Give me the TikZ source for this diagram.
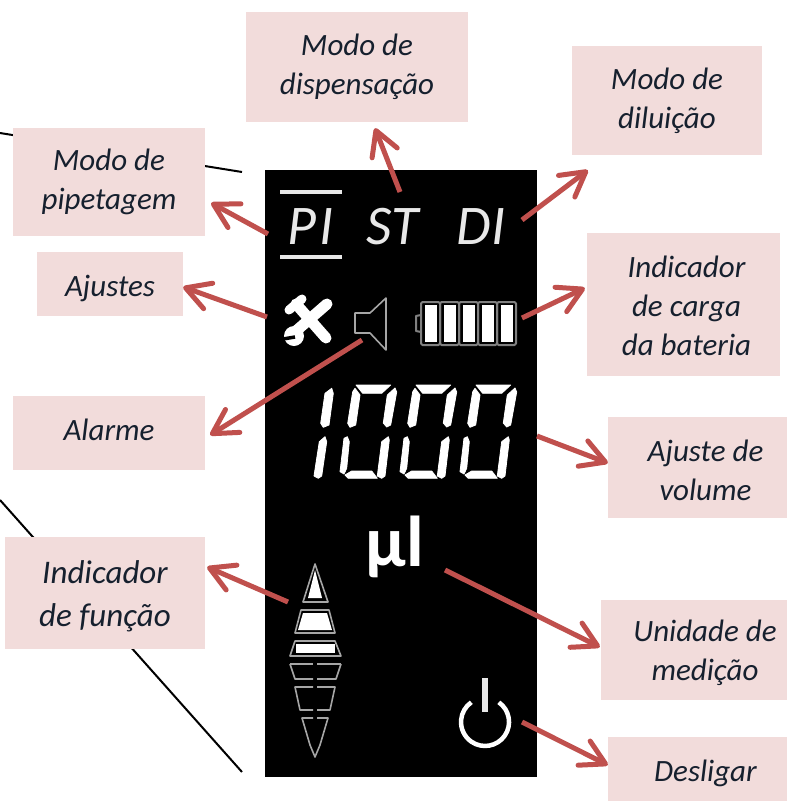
\documentclass[tikz,border=0pt]{standalone}
\usepackage{fontspec}
\setmainfont{Carlito}
\usetikzlibrary{arrows.meta,calc}
\definecolor{boxpink}{HTML}{F2DCDB}
\definecolor{arrowred}{HTML}{C0504D}
\definecolor{lcdgray}{HTML}{A6A6A6}
\definecolor{lcddark}{HTML}{808080}
\definecolor{lcdwhite}{HTML}{E8E8E8}
\definecolor{labelink}{HTML}{16202E}
\newcommand{\nudge}[2]{\raisebox{-#1pt}[\height][\depth]{#2}}
\tikzset{
  labelbox/.style={fill=boxpink, inner sep=0pt, align=center, text=labelink,
    font=\fontsize{31}{39}\selectfont\itshape},
  callout/.style={-{Straight Barb[length=24pt,width=27pt,line width=5pt,round]},
    line width=5pt, arrowred},
  modetext/.style={inner sep=0pt, text=lcdwhite, font=\fontsize{56}{56}\selectfont\itshape},
  segment/.style={fill=white, draw=white, line width=0.8pt, line join=round},
  cellline/.style={draw=lcdgray, line width=1.6pt, line join=round},
  batteryline/.style={draw=lcddark, line width=2pt, line join=round},
  leader/.style={draw=black, line width=2pt}
}
\begin{document}
\begin{tikzpicture}[x=1pt,y=-1pt]
  \useasboundingbox[fill=white] (0,0) rectangle (787,801);

  % Leader lines behind the boxes
  \coordinate (leaderA) at (0,133);
  \coordinate (leaderB) at (242,172);
  \coordinate (leaderC) at (0,500);
  \coordinate (leaderD) at (242,772);
  \draw[leader] (leaderA) -- (leaderB);
  \draw[leader] (leaderC) -- (leaderD);

  % Display
  \node[fill=black, minimum width=272pt, minimum height=607pt, inner sep=0pt] (display) at (401,473.5) {};

  % Label boxes
  \node[labelbox, minimum width=222pt, minimum height=110pt] (dispensacao) at (357,67) {Modo de\\dispensação};
  \node[labelbox, minimum width=190pt, minimum height=109pt] (diluicao) at (667,100.5) {Modo de\\diluição};
  \node[labelbox, minimum width=192pt, minimum height=108pt] (pipetagem) at (109,182) {Modo de\\pipetagem};
  \node[labelbox, minimum width=146pt, minimum height=64pt] (ajustes) at (110,284) {\nudge{4}{Ajustes}};
  \node[labelbox, minimum width=193pt, minimum height=143pt] (bateria) at (683.5,304.5) {\hspace*{6pt}\nudge{1}{Indicador}\\\hspace*{6pt}\nudge{1}{de carga}\\\hspace*{6pt}\nudge{1}{da bateria}};
  \node[labelbox, minimum width=192pt, minimum height=74pt] (alarme) at (109,433) {\nudge{-3}{Alarme}};
  \node[labelbox, minimum width=179pt, minimum height=101pt] (volume) at (697.5,467.5) {\hspace*{16pt}\nudge{3}{Ajuste de}\\\hspace*{16pt}\nudge{3}{volume}};
  \node[labelbox, minimum width=200pt, minimum height=112pt, font=\fontsize{33}{43}\selectfont\itshape] (funcao) at (105,593) {\nudge{3}{Indicador}\\\nudge{3}{de função}};
  \node[labelbox, minimum width=186pt, minimum height=100pt] (medicao) at (694,650) {\hspace*{22pt}\nudge{3}{Unidade de}\\\hspace*{22pt}\nudge{3}{medição}};
  \node[labelbox, minimum width=179pt, minimum height=64pt] (desligar) at (697.5,769) {\hspace*{16pt}\nudge{4}{Desligar}};

  % Mode texts
  \node[modetext] (modePI) at (311,227) {P\kern3pt I};
  \node[modetext] (modeST) at (393,227) {ST};
  \node[modetext] (modeDI) at (481,227) {DI};
  \coordinate (barA) at (280,192);
  \coordinate (barB) at (342,192);
  \coordinate (barC) at (280,257);
  \coordinate (barD) at (342,257);
  \draw[lcdwhite, line width=3.6pt] (barA) -- (barB);
  \draw[lcdwhite, line width=3.6pt] (barC) -- (barD);

  % Tools icon
  \draw[white, line width=11pt, line cap=round] (327,304) -- (296,331);
  \draw[white, line width=11pt, line cap=round] (296,304) -- (326,338);
  \draw[white, line width=9pt, line cap=round] (289,310) -- (302,299);
  \fill[white] (294,336) circle[radius=10pt];
  \draw[black, line width=3.5pt] (283,339) -- (295,337);

  % Speaker icon
  \draw[cellline] (355,313) -- (370,313) -- (386,298) -- (386,350) -- (370,333) -- (355,333) -- cycle;

  % Battery
  \draw[batteryline] (421,315) -- (416,316) -- (416,331) -- (421,332);
  \foreach \cellx in {421,440,459,478,497} {
    \draw[batteryline, rounded corners=1.5pt] (\cellx,302) rectangle ++(19,43);
    \fill[white] (\cellx+3.5,305) rectangle ++(12.5,37);
  }

  % Volume digits
  \draw[segment] (331.7,388.3) -- (333.3,393.3) -- (329,425) -- (323.3,427.3) -- (320.7,423.3) -- (325,393.3) -- cycle;
  \draw[segment] (325,436.7) -- (326.7,441.7) -- (321.7,476) -- (318.3,478.3) -- (314,476) -- (319.3,441.7) -- cycle;
  \foreach \dx in {0,60,120} {
    \begin{scope}[shift={(\dx,0)}]
      \draw[segment] (356,385) -- (390.7,385) -- (381.7,393.3) -- (362.7,393.3) -- cycle;
      \draw[segment] (355,388.3) -- (360,395) -- (355.7,425) -- (350,427.3) -- (347.7,423.3) -- (352.7,391.7) -- cycle;
      \draw[segment] (395,388) -- (396.7,392) -- (390.7,425) -- (386.7,427) -- (383.3,423) -- (387.3,395) -- cycle;
      \draw[segment] (347.3,436.7) -- (349.3,441.7) -- (346.7,468.3) -- (344,474) -- (340,471.7) -- (344,438.3) -- cycle;
      \draw[segment] (388.3,436.7) -- (389.3,440) -- (385,476) -- (381.7,478.3) -- (377.3,476) -- (381.7,441.7) -- cycle;
      \draw[segment] (351.7,471) -- (371.7,471) -- (377.3,478.3) -- (348.3,478.3) -- (345,475) -- cycle;
    \end{scope}
  }

  % Unit
  \node[inner sep=0pt, text=white, font=\fontsize{72}{72}\selectfont\bfseries] (unit) at (395,547) {µl};

  % Function indicator
  \draw[cellline] (315,564) -- (328,602) -- (303,602) -- cycle;
  \fill[white] (315,570) -- (322,598) -- (308,598) -- cycle;
  \draw[cellline] (301,610) -- (329,610) -- (335,633) -- (295,633) -- cycle;
  \fill[white] (303,613) -- (327,613) -- (332,630) -- (298,630) -- cycle;
  \draw[cellline] (295,641) -- (335,641) -- (341,656) -- (290,656) -- cycle;
  \fill[white] (296,644) rectangle (335,653);
  \draw[cellline] (290,664) -- (313,664);
  \draw[cellline] (317,664) -- (341,664);
  \draw[cellline] (290,664) -- (295,679) -- (313,679);
  \draw[cellline] (341,664) -- (336,679) -- (317,679);
  \draw[cellline] (313,687) -- (295,687) -- (300,710) -- (313,710);
  \draw[cellline] (317,687) -- (335,687) -- (330,710) -- (317,710);
  \draw[cellline] (313,718) -- (302,718) -- (310,745) -- (315,757) -- (320,745) -- (328,718) -- (317,718);

  % Power icon
  \draw[white, line width=4.5pt] (498.8,702.3) arc[start angle=55, end angle=-235, radius=24pt];
  \coordinate (powerA) at (485,678);
  \coordinate (powerB) at (485,712);
  \draw[lcdwhite, line width=5.5pt] (powerA) -- (powerB);

  % Arrows
  \coordinate (tailPI) at (268,234);
  \coordinate (tailTools) at (267,317);
  \coordinate (tailST) at (400,192);
  \coordinate (tailDI) at (522,220);
  \coordinate (tailBattery) at (522,318);
  \coordinate (tailSpeaker) at (362,340);
  \coordinate (tailDigits) at (537,436);
  \coordinate (tailFunction) at (288,602);
  \coordinate (tailUnit) at (445,570);
  \coordinate (tailPower) at (522,722);
  \draw[callout] (tailPI) -- ($(pipetagem.east)+(6,21)$);
  \draw[callout] (tailTools) -- ($(ajustes.east)+(0,3)$);
  \draw[callout] (tailST) -- ($(dispensacao.south)+(18,6)$);
  \draw[callout] (tailDI) -- ($(diluicao.south west)+(16,15)$);
  \draw[callout] (tailBattery) -- ($(bateria.west)+(-2,-16.5)$);
  \draw[callout] (tailSpeaker) -- ($(alarme.east)+(5,2)$);
  \draw[callout] (tailDigits) -- ($(volume.west)+(0,-4.5)$);
  \draw[callout] (tailFunction) -- ($(funcao.east)+(2,-26)$);
  \draw[callout] (tailUnit) -- ($(medicao.west)+(-1,-3)$);
  \draw[callout] (tailPower) -- ($(desligar.west)+(0,-4)$);
\end{tikzpicture}
\end{document}
